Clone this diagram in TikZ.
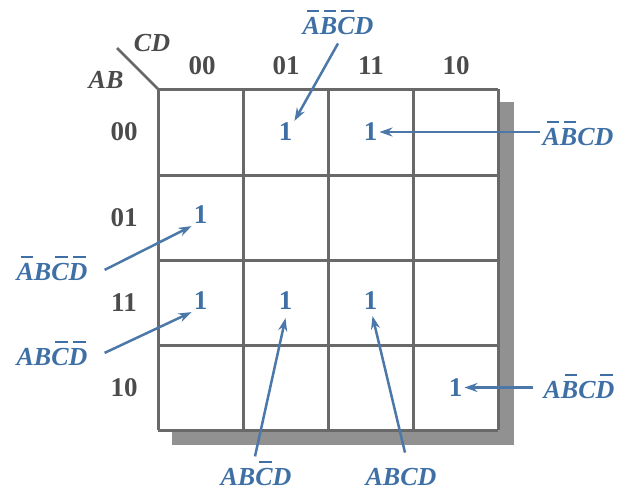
\documentclass[tikz,border=0pt]{standalone}
\usepackage{fontspec}
\setmainfont{Liberation Serif}
\usetikzlibrary{arrows.meta}
\definecolor{kblue}{RGB}{62,112,165}
\definecolor{karrow}{RGB}{75,120,168}
\definecolor{kgrid}{RGB}{105,105,105}
\definecolor{kshadow}{RGB}{145,145,145}
\definecolor{khead}{RGB}{75,75,75}
\newsavebox{\obbox}
\newcommand{\ob}[1]{\sbox{\obbox}{#1}\rlap{\hspace{0.24\wd\obbox}\raisebox{0.86em}{\rule{0.7\wd\obbox}{0.08em}}}\usebox{\obbox}}
\begin{document}
\begin{tikzpicture}[x=1pt,y=-1pt,
  every node/.style={font=\fontsize{27}{32}\selectfont\bfseries, inner sep=2pt},
  head/.style={text=khead},
  one/.style={text=kblue},
  lab/.style={text=kblue, font=\fontsize{26}{30}\selectfont\bfseries\itshape, anchor=base},
  arr/.style={draw=karrow, line width=2.5pt, -{Stealth[length=13pt,width=9pt]}},
  gridline/.style={draw=kgrid, line width=3pt}]
\useasboundingbox (0,0) rectangle (619,491);
% shadow and grid
\fill[kshadow] (172,102) rectangle (514,445);
\fill[white] (158,89) rectangle (498,430);
\foreach \v in {158,243,328,413,498} \draw[gridline] (\v,89) -- (\v,430);
\foreach \h in {89,175,260,345,430} \draw[gridline] (158,\h) -- (498,\h);
% corner
\coordinate (cs) at (117,48);
\coordinate (ce) at (158,89);
\draw[draw=kgrid, line width=2.5pt] (cs) -- (ce);
\node[head, font=\fontsize{26}{30}\selectfont\bfseries\itshape] (cd) at (152,43) {CD};
\node[head, font=\fontsize{26}{30}\selectfont\bfseries\itshape] (ab) at (106,80) {AB};
% column headers
\node[head] (c00) at (202,66) {00};
\node[head] (c01) at (286,66) {01};
\node[head] (c11) at (371,66) {11};
\node[head] (c10) at (456,66) {10};
% row headers
\node[head] (r00) at (124,132) {00};
\node[head] (r01) at (124,217.5) {01};
\node[head] (r11) at (124,302.5) {11};
\node[head] (r10) at (124,387.5) {10};
% ones
\node[one] (o0001) at (285.5,132) {1};
\node[one] (o0011) at (370.5,132) {1};
\node[one] (o0100) at (200.5,215) {1};
\node[one] (o1100) at (200.5,301) {1};
\node[one] (o1101) at (285.5,301) {1};
\node[one] (o1111) at (370.5,301) {1};
\node[one] (o1010) at (455.5,387.5) {1};
% labels
\node[lab] (t) at (338,34) {\ob{A}\ob{B}\ob{C}D};
\node[lab] (r) at (578,145) {\ob{A}\ob{B}CD};
\node[lab] (l1) at (52,280) {\ob{A}B\ob{C}\ob{D}};
\node[lab] (l2) at (52,365) {AB\ob{C}\ob{D}};
\node[lab] (b1) at (256,485) {AB\ob{C}D};
\node[lab] (b2) at (401,485) {ABCD};
\node[lab] (r2) at (579,398) {A\ob{B}C\ob{D}};
% arrows
\draw[arr] ([shift={(0,7)}]t.south) -- (o0001.north east);
\draw[arr] (r.west |- o0011.east) -- (o0011.east);
\draw[arr] ([shift={(15,2)}]l1.east) -- (o0100.south west);
\draw[arr] ([shift={(15,0)}]l2.east) -- (o1100.south west);
\draw[arr] ([shift={(-1,-2)}]b1.north) -- ([shift={(0,6)}]o1101.south);
\draw[arr] ([shift={(4,-13)}]b2.north) -- ([shift={(2,4)}]o1111.south);
\draw[arr] ([shift={(-8,0)}]r2.west |- o1010.east) -- (o1010.east);
\end{tikzpicture}
\end{document}
